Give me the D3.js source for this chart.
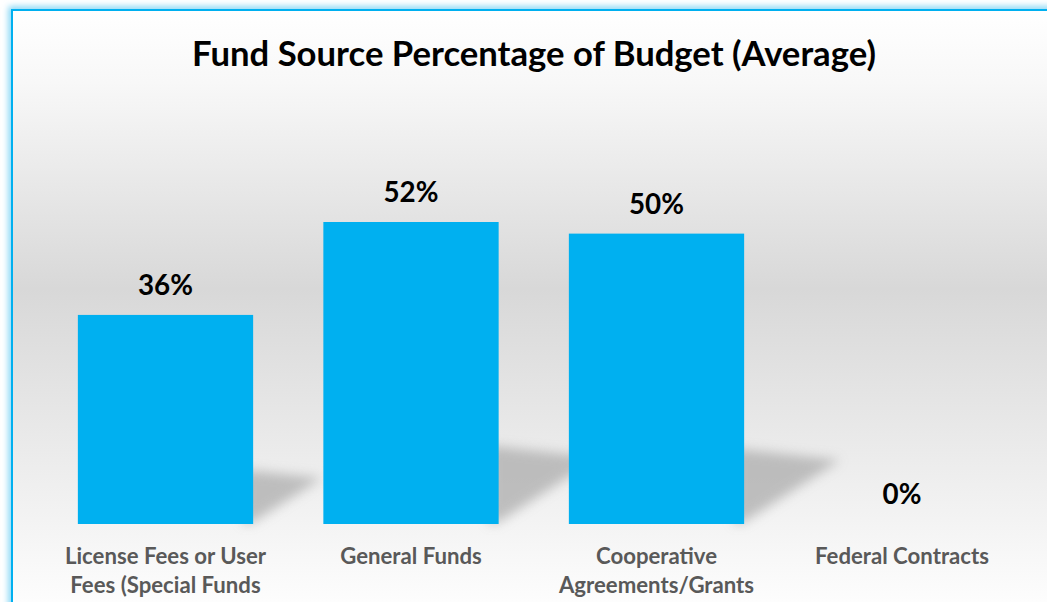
<!DOCTYPE html>
<html><head><meta charset="utf-8">
<script src="https://cdn.jsdelivr.net/npm/d3@7"></script>
<style>html,body{margin:0;padding:0;background:#fff;overflow:hidden}</style>
</head><body>
<svg id="c" width="1047" height="602"></svg>
<script>
const categories = [["License Fees or User","Fees (Special Funds"],["General Funds"],["Cooperative","Agreements/Grants"],["Federal Contracts"]];
const values = [36, 52, 50, 0];
const valueLabels = ["36%","52%","50%","0%"];
const title = "Fund Source Percentage of Budget (Average)";

const W = 1047, H = 602;
const svg = d3.select("#c");
const font = "Lato, 'Open Sans', sans-serif";
const defs = svg.append("defs");

const bg = defs.append("linearGradient").attr("id","bg").attr("gradientUnits","userSpaceOnUse")
  .attr("x1",0).attr("y1",11).attr("x2",0).attr("y2",602);
[[0,"#ffffff"],[0.12,"#f8f8f8"],[0.47,"#d8d8d8"],[0.86,"#f3f3f3"],[1,"#fdfdfd"]].forEach(([o,c])=>
  bg.append("stop").attr("offset",o).attr("stop-color",c));

const glow = defs.append("filter").attr("id","glow").attr("x","-10%").attr("y","-10%").attr("width","120%").attr("height","120%");
glow.append("feGaussianBlur").attr("stdDeviation",3);
const sh = defs.append("filter").attr("id","sh").attr("x","-50%").attr("y","-50%").attr("width","200%").attr("height","200%");
sh.append("feGaussianBlur").attr("stdDeviation",6);

// frame glow + frame
svg.append("rect").attr("x",12).attr("y",10).attr("width",1100).attr("height",700)
  .attr("fill","none").attr("stroke","#7fd4f5").attr("stroke-width",7).attr("filter","url(#glow)");
svg.append("rect").attr("x",12).attr("y",10).attr("width",1100).attr("height",700)
  .attr("fill","url(#bg)").attr("stroke","#00b0f0").attr("stroke-width",2);

const x = d3.scaleBand().domain(d3.range(values.length)).range([42.75, 1024.75]).paddingInner(0.286).paddingOuter(0.143);
const y = d3.scaleLinear().domain([0, 52]).range([524, 222]);

// shadows
svg.append("g").selectAll("polygon").data(values.map((v,i)=>({v,i})).filter(d=>d.v>0)).join("polygon")
  .attr("points",d=>{
    const x1 = x(d.i)+x.bandwidth(), y0 = y(0), h = y(0)-y(d.v);
    return [[x1-10,y0],[x1-10,y0-0.26*h],[x1+0.33*h,y0-0.22*h],[x1,y0-2]].map(p=>p.join(",")).join(" ");
  })
  .attr("fill","#a8a8a8").attr("opacity",0.7).attr("filter","url(#sh)");

// bars
svg.append("g").selectAll("rect").data(values).join("rect")
  .attr("x",(d,i)=>x(i)).attr("width",x.bandwidth())
  .attr("y",d=>y(d)).attr("height",d=>y(0)-y(d)).attr("fill","#00b0f0");

// value labels
const vl = svg.append("g").selectAll("text").data(values).join("text")
  .attr("x",(d,i)=>x(i)+x.bandwidth()/2).attr("y",d=>y(d)-20)
  .attr("text-anchor","middle").attr("font-family",font).attr("font-weight","bold")
  .attr("font-size",28).attr("fill","#000").text((d,i)=>valueLabels[i]);

// title
const t = svg.append("text").attr("x",534).attr("y",66).attr("text-anchor","middle")
  .attr("font-family",font).attr("font-weight","bold").attr("font-size",32).attr("fill","#000").text(title);
function fit(sel, target){ const w = sel.node().getComputedTextLength(); const fs = +sel.attr("font-size"); sel.attr("font-size", fs*target/w); }
fit(t, 684);
const v0 = vl.filter((d,i)=>i===0); const w0 = v0.node().getComputedTextLength();
vl.attr("font-size", 28*55/w0);

// category labels
const cg = svg.append("g");
categories.forEach((lines,i)=>{
  const tx = cg.append("text").attr("x",x(i)+x.bandwidth()/2).attr("y",564)
    .attr("text-anchor","middle").attr("font-family",font).attr("font-weight","bold")
    .attr("font-size",20).attr("fill","#595959");
  lines.forEach((l,j)=>tx.append("tspan").attr("x",x(i)+x.bandwidth()/2).attr("y",564+j*29).text(l));
});
const fed = cg.selectAll("text").filter((d,i)=>i===3);
const wf = fed.node().getComputedTextLength();
cg.selectAll("text").attr("font-size", 20*174/wf);
</script>
</body></html>
